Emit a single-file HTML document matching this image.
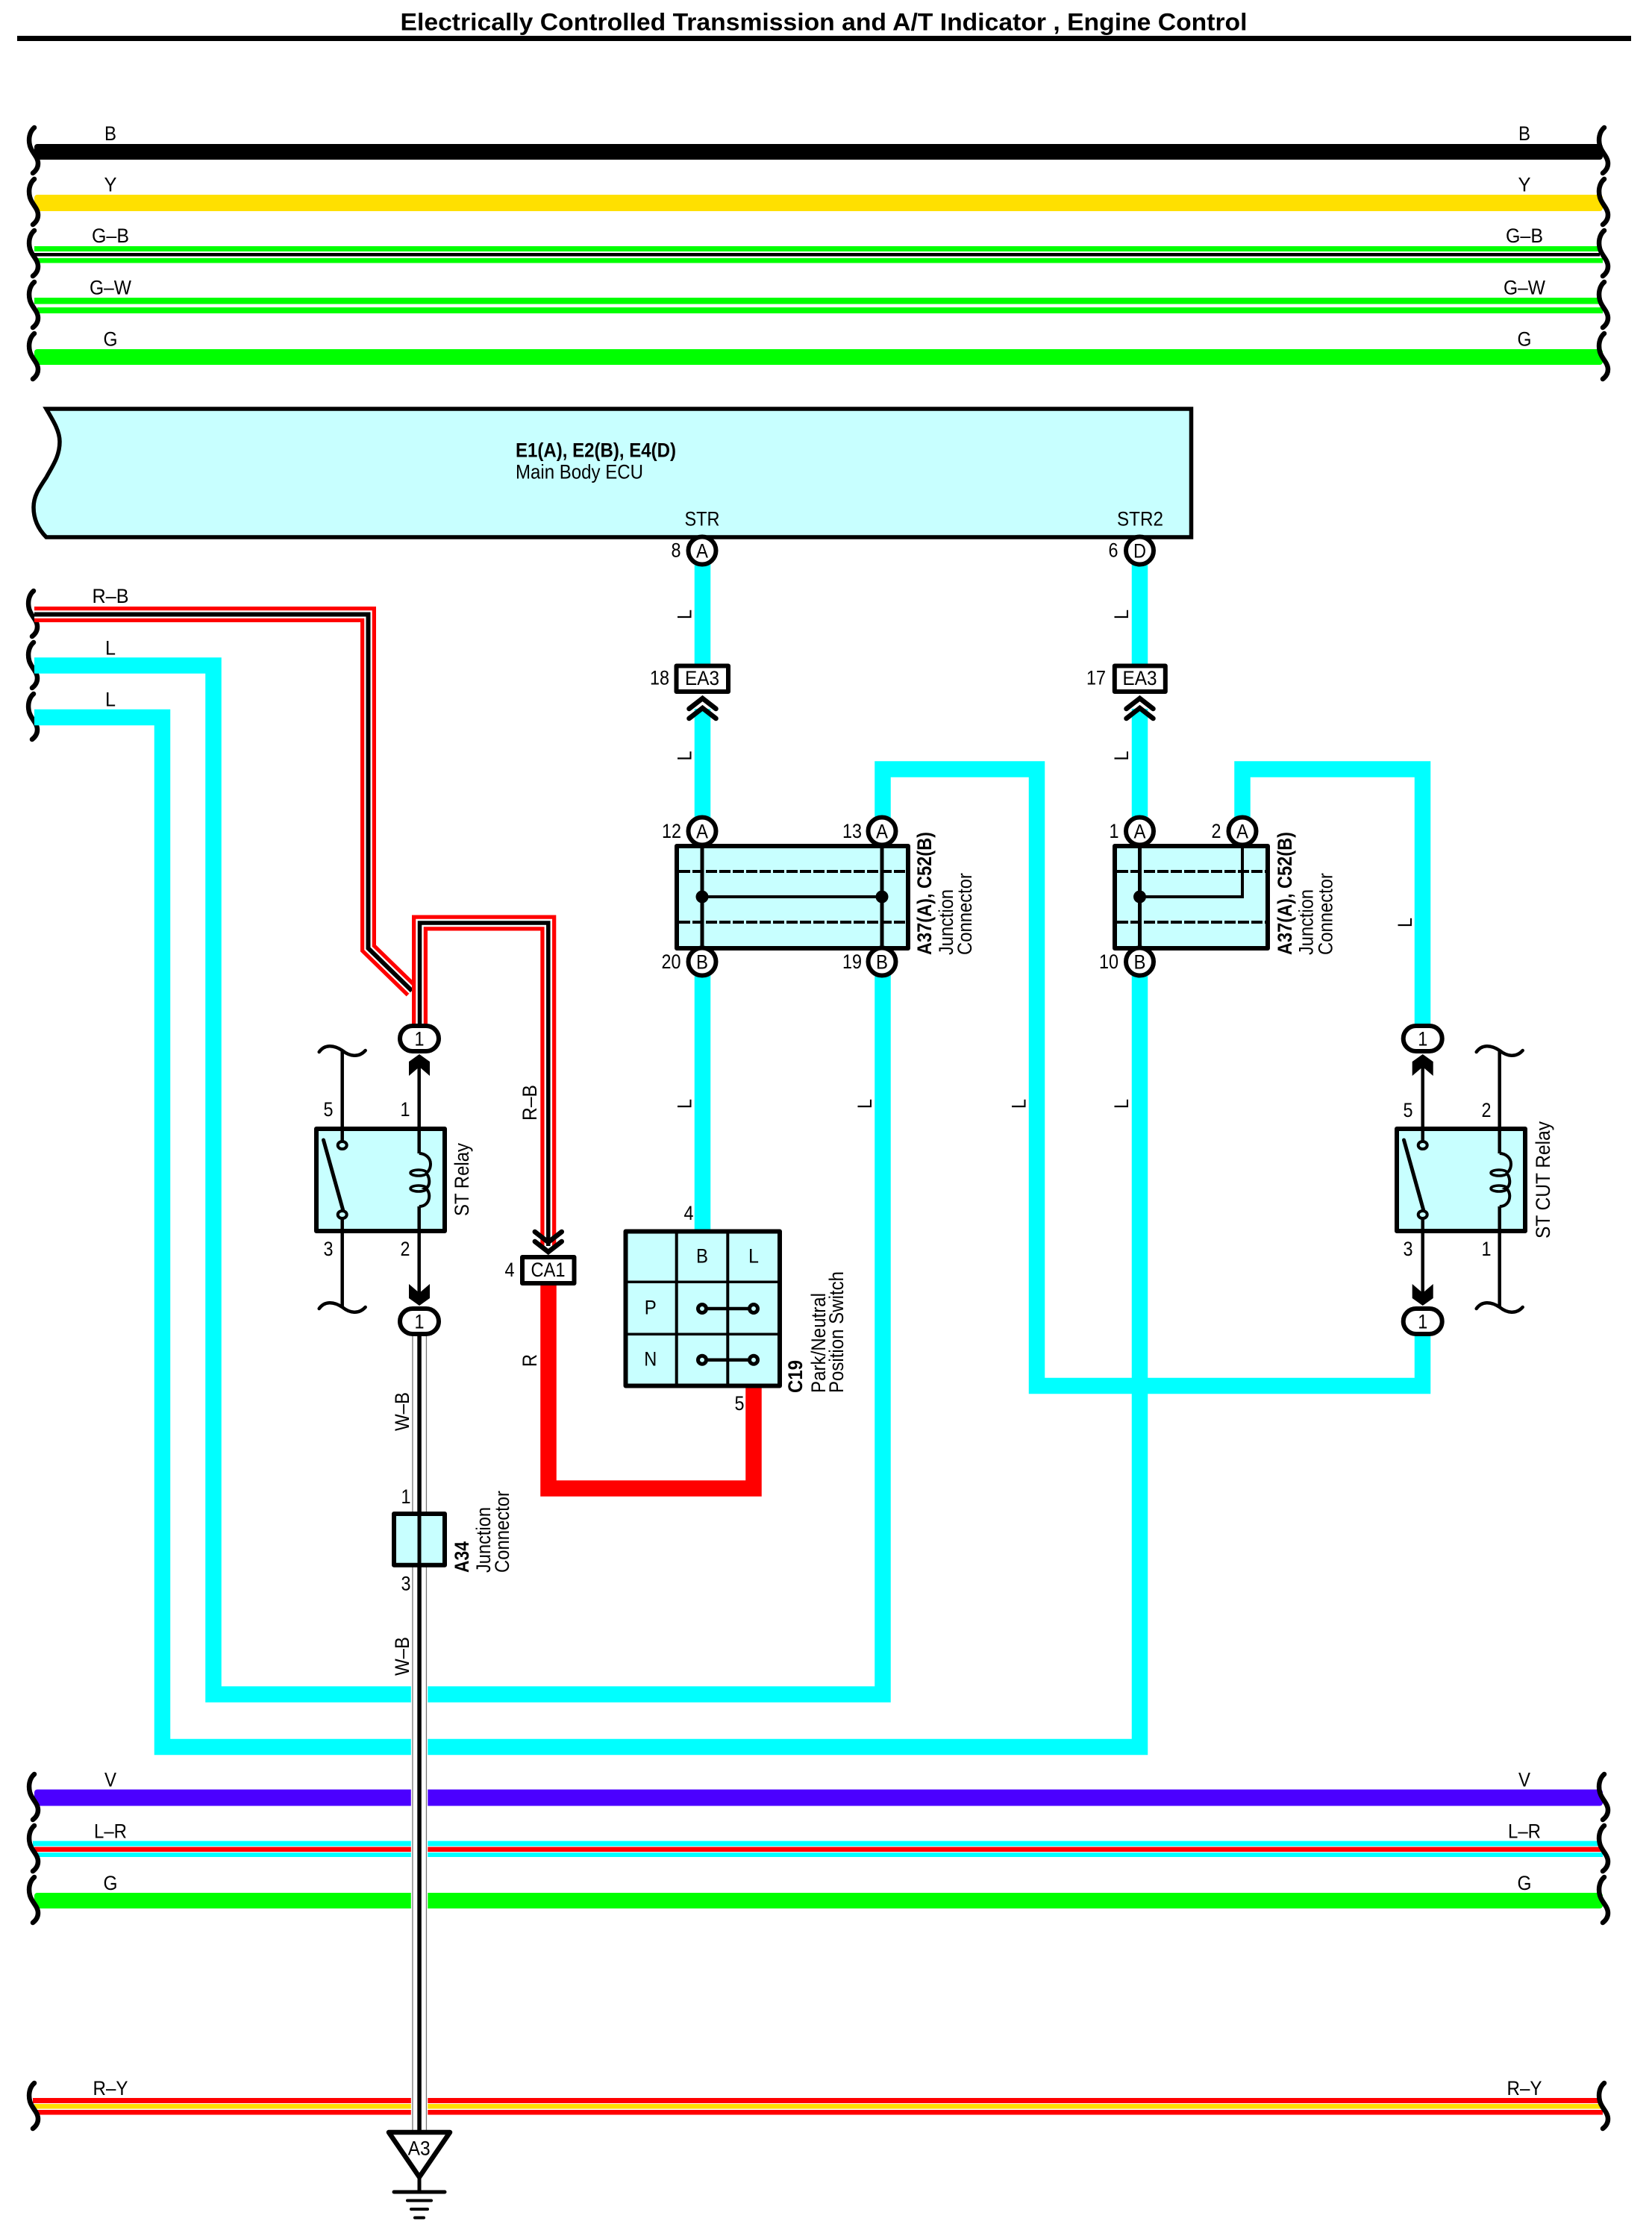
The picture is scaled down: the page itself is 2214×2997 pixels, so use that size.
<!DOCTYPE html>
<html><head><meta charset="utf-8"><title>Electrically Controlled Transmission and A/T Indicator, Engine Control</title>
<style>
html,body{margin:0;padding:0;background:#fff}
svg{display:block}
text{font-family:"Liberation Sans",Arial,sans-serif;font-size:27px;fill:#000}
.b{font-weight:bold}
.m{text-anchor:middle}
.w{fill:none;stroke-linejoin:miter}
</style></head>
<body>
<svg xmlns="http://www.w3.org/2000/svg" width="2214" height="2997" viewBox="0 0 2214 2997">
<defs>
<path id="sq" d="M46,2 C39,8 38,18 40,26 C42,35 51,41 51,50 C51,56 48,60 44,63" fill="none" stroke="#000" stroke-width="6.5" stroke-linecap="round"/>
<path id="wv" d="M-31 1 C-24 -9 -12 -9 0 -1 C10 7 22 9 31 -1" fill="none" stroke="#000" stroke-width="4.5" stroke-linecap="round"/>
<g id="relay">
<rect x="424" y="1513" width="172" height="137" fill="#c8ffff" stroke="#000" stroke-width="6" stroke-linejoin="round"/>
<line x1="458.700" y1="1513" x2="458.700" y2="1530" stroke="#000" stroke-width="4.500"/>
<line x1="458.700" y1="1633" x2="458.700" y2="1650" stroke="#000" stroke-width="4.500"/>
<line x1="561.700" y1="1513" x2="561.700" y2="1546" stroke="#000" stroke-width="4.500"/>
<line x1="561.700" y1="1617" x2="561.700" y2="1650" stroke="#000" stroke-width="4.500"/>
<line x1="433.500" y1="1528" x2="460" y2="1623" stroke="#000" stroke-width="5" stroke-linecap="round"/>
<ellipse cx="458.700" cy="1535" rx="6" ry="5" fill="#c8ffff" stroke="#000" stroke-width="4"/>
<ellipse cx="458.700" cy="1628" rx="6" ry="5" fill="#c8ffff" stroke="#000" stroke-width="4"/>
<g fill="none" stroke="#000">
<path d="M561.700 1546 C570 1546 577 1552 577 1560 C577 1566 574 1572 570 1572 C576 1575 578 1590 570 1593 C578 1596 578 1617 561.700 1617" stroke-width="4"/>
<ellipse cx="561" cy="1572" rx="11" ry="4" stroke-width="3.500"/>
<ellipse cx="561" cy="1593" rx="11" ry="4" stroke-width="3.500"/>
</g>
</g>
<polygon id="au" points="0,0 14,10 14,29 0,17 -14,29 -14,10"/>
<polygon id="ad" points="0,0 14,-10 14,-29 0,-17 -14,-29 -14,-10"/>
<g id="chU" fill="none" stroke="#000" stroke-width="6.500" stroke-linecap="round" stroke-linejoin="miter">
<polyline points="-18,14 0,0 18,14"/>
<polyline points="-18,27 0,13 18,27"/>
</g>
<g id="chD" fill="none" stroke="#000" stroke-width="6.500" stroke-linecap="round" stroke-linejoin="miter">
<polyline points="-18,-14 0,0 18,-14"/>
<polyline points="-18,-27 0,-13 18,-27"/>
</g>
</defs>

<!-- title -->
<text x="536.500" y="40.700" class="b" style="font-size:32px" textLength="1135" lengthAdjust="spacingAndGlyphs">Electrically Controlled Transmission and A/T Indicator , Engine Control</text>
<rect x="23" y="48" width="2163" height="7" fill="#000"/>

<!-- top harness bars -->
<rect x="46" y="193" width="2102" height="21" rx="4" fill="#000"/>
<rect x="46" y="261" width="2102" height="22" rx="4" fill="#ffe000"/>
<rect x="46" y="330" width="2098" height="7" fill="#00ff00"/>
<rect x="46" y="339" width="2098" height="4.500" fill="#000"/>
<rect x="50" y="346" width="2098" height="6.500" fill="#00ff00"/>
<rect x="46" y="399" width="2098" height="8.500" fill="#00ff00"/>
<rect x="50" y="412" width="2098" height="8" fill="#00ff00"/>
<rect x="46" y="468" width="2102" height="21" rx="4" fill="#00ff00"/>

<!-- lower harness bars -->
<rect x="46" y="2398.500" width="2102" height="22" rx="4" fill="#4b00ff"/>
<rect x="44" y="2467.500" width="2100" height="7" fill="#00ffff"/>
<rect x="46" y="2475.500" width="2100" height="6.500" fill="#ff0000"/>
<rect x="50" y="2483" width="2098" height="6" fill="#00ffff"/>
<rect x="46" y="2537" width="2102" height="21" rx="4" fill="#00ff00"/>
<rect x="44" y="2812" width="2100" height="7" fill="#ff0000"/>
<rect x="46" y="2820" width="2100" height="6.500" fill="#ffe000"/>
<rect x="50" y="2828" width="2098" height="6.500" fill="#ff0000"/>

<!-- squiggles left and right -->
<use href="#sq" x="0" y="169"/><use href="#sq" x="0" y="238"/><use href="#sq" x="0" y="307"/><use href="#sq" x="0" y="376"/><use href="#sq" x="0" y="445"/>
<use href="#sq" x="2104" y="169"/><use href="#sq" x="2104" y="238"/><use href="#sq" x="2104" y="307"/><use href="#sq" x="2104" y="376"/><use href="#sq" x="2104" y="445"/>
<use href="#sq" x="0" y="2376"/><use href="#sq" x="0" y="2445"/><use href="#sq" x="0" y="2514"/><use href="#sq" x="0" y="2790"/>
<use href="#sq" x="2104" y="2376"/><use href="#sq" x="2104" y="2445"/><use href="#sq" x="2104" y="2514"/><use href="#sq" x="2104" y="2790"/>
<use href="#sq" x="-1" y="790"/><use href="#sq" x="-1" y="859"/><use href="#sq" x="-1" y="928"/>

<!-- bar labels -->
<g>
<text class="m" x="148" y="188" textLength="16" lengthAdjust="spacingAndGlyphs">B</text>
<text class="m" x="148" y="256.700" textLength="17" lengthAdjust="spacingAndGlyphs">Y</text>
<text class="m" x="148" y="325" textLength="50" lengthAdjust="spacingAndGlyphs">G–B</text>
<text class="m" x="148" y="394.300" textLength="56" lengthAdjust="spacingAndGlyphs">G–W</text>
<text class="m" x="148" y="463.300" textLength="19" lengthAdjust="spacingAndGlyphs">G</text>
<text class="m" x="2043" y="188" textLength="16" lengthAdjust="spacingAndGlyphs">B</text>
<text class="m" x="2043" y="256.700" textLength="17" lengthAdjust="spacingAndGlyphs">Y</text>
<text class="m" x="2043" y="325" textLength="50" lengthAdjust="spacingAndGlyphs">G–B</text>
<text class="m" x="2043" y="394.300" textLength="56" lengthAdjust="spacingAndGlyphs">G–W</text>
<text class="m" x="2043" y="463.300" textLength="19" lengthAdjust="spacingAndGlyphs">G</text>
<text class="m" x="148" y="2394.500" textLength="16" lengthAdjust="spacingAndGlyphs">V</text>
<text class="m" x="148" y="2463.700" textLength="44" lengthAdjust="spacingAndGlyphs">L–R</text>
<text class="m" x="148" y="2532.800" textLength="19" lengthAdjust="spacingAndGlyphs">G</text>
<text class="m" x="148" y="2808" textLength="47" lengthAdjust="spacingAndGlyphs">R–Y</text>
<text class="m" x="2043" y="2394.500" textLength="16" lengthAdjust="spacingAndGlyphs">V</text>
<text class="m" x="2043" y="2463.700" textLength="44" lengthAdjust="spacingAndGlyphs">L–R</text>
<text class="m" x="2043" y="2532.800" textLength="19" lengthAdjust="spacingAndGlyphs">G</text>
<text class="m" x="2043" y="2808" textLength="47" lengthAdjust="spacingAndGlyphs">R–Y</text>
<text class="m" x="148" y="808" textLength="49" lengthAdjust="spacingAndGlyphs">R–B</text>
<text class="m" x="148" y="877.300" textLength="14" lengthAdjust="spacingAndGlyphs">L</text>
<text class="m" x="148" y="946.700" textLength="14" lengthAdjust="spacingAndGlyphs">L</text>
</g>

<!-- ECU -->
<path d="M62,548 C72,565 80,578 80,592 C80,612 70,625 62,640 C52,655 45,665 45,680 C45,697 52,710 62,720 L1596.500,720 L1596.500,548 Z" fill="#c8ffff" stroke="#000" stroke-width="5.500" stroke-linejoin="miter"/>
<text x="691" y="612.700" class="b" textLength="215" lengthAdjust="spacingAndGlyphs">E1(A), E2(B), E4(D)</text>
<text x="691" y="641.700" textLength="171" lengthAdjust="spacingAndGlyphs">Main Body ECU</text>
<text class="m" x="941" y="704.500" textLength="47" lengthAdjust="spacingAndGlyphs">STR</text>
<text class="m" x="1528" y="704.500" textLength="62" lengthAdjust="spacingAndGlyphs">STR2</text>

<!-- cyan wires -->
<g class="w" stroke="#00ffff" stroke-width="21.500">
<polyline points="46,892 286,892 286,2271 1183,2271 1183,1300"/>
<polyline points="46,961.500 217.500,961.500 217.500,2341.500 1527.500,2341.500 1527.500,1300"/>
<line x1="941.500" y1="750" x2="941.500" y2="895"/>
<line x1="941.500" y1="950" x2="941.500" y2="1100"/>
<line x1="941.500" y1="1300" x2="941.500" y2="1650"/>
<line x1="1527.500" y1="750" x2="1527.500" y2="895"/>
<line x1="1527.500" y1="950" x2="1527.500" y2="1100"/>
<polyline points="1183,1100 1183,1031 1389.500,1031 1389.500,1857.500 1906.500,1857.500 1906.500,1785"/>
<polyline points="1665,1100 1665,1031 1906.500,1031 1906.500,1380"/>
</g>

<!-- red R wire -->
<polyline class="w" points="735,1715 735,1995 1010,1995 1010,1855" stroke="#ff0000" stroke-width="21.500"/>

<!-- R-B wires -->
<g class="w">
<polyline points="46,823.500 493.500,823.500 493.500,1271 552,1328" stroke="#ff0000" stroke-width="21"/>
<polyline points="46,823.500 493.500,823.500 493.500,1271 552,1328" stroke="#fff" stroke-width="10.500"/>
<polyline points="46,823.500 493.500,823.500 493.500,1271 552,1328" stroke="#000" stroke-width="6"/>
<polyline points="562.500,1380 562.500,1237 734.800,1237 734.800,1670" stroke="#ff0000" stroke-width="21"/>
<polyline points="562.500,1380 562.500,1237 734.800,1237 734.800,1670" stroke="#fff" stroke-width="10.500"/>
<polyline points="562.500,1380 562.500,1237 734.800,1237 734.800,1670" stroke="#000" stroke-width="5.500"/>
</g>

<!-- W-B wire -->
<rect x="550.800" y="1790" width="22.500" height="1066" fill="#fff"/>
<rect x="552.300" y="1790" width="1.300" height="1066" fill="#777"/>
<rect x="570.800" y="1790" width="1.300" height="1066" fill="#777"/>
<rect x="559.300" y="1790" width="5.500" height="1066" fill="#000"/>

<!-- EA3 connectors -->
<g>
<rect x="906.500" y="892.500" width="69.500" height="34.500" fill="#fff" stroke="#000" stroke-width="6" stroke-linejoin="round"/>
<text class="m" x="941" y="918" textLength="46" lengthAdjust="spacingAndGlyphs">EA3</text>
<use href="#chU" x="941.500" y="936"/>
<text class="m" x="884" y="917.500" textLength="26" lengthAdjust="spacingAndGlyphs">18</text>
<rect x="1493.800" y="892.500" width="68" height="34.500" fill="#fff" stroke="#000" stroke-width="6" stroke-linejoin="round"/>
<text class="m" x="1527.500" y="918" textLength="46" lengthAdjust="spacingAndGlyphs">EA3</text>
<use href="#chU" x="1527.500" y="936"/>
<text class="m" x="1469" y="917.500" textLength="26" lengthAdjust="spacingAndGlyphs">17</text>
</g>

<!-- L labels -->
<g>
<text transform="translate(926.500 830) rotate(-90)" textLength="13" lengthAdjust="spacingAndGlyphs">L</text>
<text transform="translate(926.500 1019.500) rotate(-90)" textLength="13" lengthAdjust="spacingAndGlyphs">L</text>
<text transform="translate(1512 830) rotate(-90)" textLength="13" lengthAdjust="spacingAndGlyphs">L</text>
<text transform="translate(1512 1019.500) rotate(-90)" textLength="13" lengthAdjust="spacingAndGlyphs">L</text>
<text transform="translate(926.500 1486) rotate(-90)" textLength="13" lengthAdjust="spacingAndGlyphs">L</text>
<text transform="translate(1168 1486) rotate(-90)" textLength="13" lengthAdjust="spacingAndGlyphs">L</text>
<text transform="translate(1374.500 1486) rotate(-90)" textLength="13" lengthAdjust="spacingAndGlyphs">L</text>
<text transform="translate(1512 1486) rotate(-90)" textLength="13" lengthAdjust="spacingAndGlyphs">L</text>
<text transform="translate(1892 1243) rotate(-90)" textLength="13" lengthAdjust="spacingAndGlyphs">L</text>
</g>

<!-- Junction A37 1 -->
<rect x="907" y="1134" width="310" height="137" fill="#c8ffff" stroke="#000" stroke-width="6" stroke-linejoin="round"/>
<g stroke="#000" fill="none">
<line x1="910" y1="1168" x2="1214" y2="1168" stroke-width="4" stroke-dasharray="15 3"/>
<line x1="910" y1="1236" x2="1214" y2="1236" stroke-width="4" stroke-dasharray="15 3"/>
<line x1="941" y1="1134" x2="941" y2="1271" stroke-width="5"/>
<line x1="1182" y1="1134" x2="1182" y2="1271" stroke-width="5"/>
<line x1="941" y1="1202" x2="1182" y2="1202" stroke-width="4"/>
</g>
<circle cx="941" cy="1202" r="8.500" fill="#000"/><circle cx="1182" cy="1202" r="8.500" fill="#000"/>

<!-- Junction A37 2 -->
<rect x="1494" y="1134" width="205" height="137" fill="#c8ffff" stroke="#000" stroke-width="6" stroke-linejoin="round"/>
<g stroke="#000" fill="none">
<line x1="1497" y1="1168" x2="1696" y2="1168" stroke-width="4" stroke-dasharray="15 3"/>
<line x1="1497" y1="1236" x2="1696" y2="1236" stroke-width="4" stroke-dasharray="15 3"/>
<line x1="1527.500" y1="1134" x2="1527.500" y2="1271" stroke-width="5"/>
<polyline points="1665,1134 1665,1202 1527.500,1202" stroke-width="4"/>
</g>
<circle cx="1527.500" cy="1202" r="8.500" fill="#000"/>

<!-- pin circles -->
<g fill="#fff" stroke="#000" stroke-width="6">
<circle cx="941" cy="738" r="18.500"/><circle cx="1527.500" cy="738" r="18.500"/>
<circle cx="941" cy="1114" r="18.500"/><circle cx="1182" cy="1114" r="18.500"/>
<circle cx="941" cy="1289" r="18.500"/><circle cx="1182" cy="1289" r="18.500"/>
<circle cx="1527.500" cy="1114" r="18.500"/><circle cx="1665" cy="1114" r="18.500"/>
<circle cx="1527.500" cy="1289" r="18.500"/>
</g>
<g>
<text class="m" x="941" y="747.500" textLength="16" lengthAdjust="spacingAndGlyphs">A</text>
<text class="m" x="1527.500" y="747.500" textLength="17" lengthAdjust="spacingAndGlyphs">D</text>
<text class="m" x="941" y="1123.500" textLength="16" lengthAdjust="spacingAndGlyphs">A</text>
<text class="m" x="1182" y="1123.500" textLength="16" lengthAdjust="spacingAndGlyphs">A</text>
<text class="m" x="941" y="1298.500" textLength="16" lengthAdjust="spacingAndGlyphs">B</text>
<text class="m" x="1182" y="1298.500" textLength="16" lengthAdjust="spacingAndGlyphs">B</text>
<text class="m" x="1527.500" y="1123.500" textLength="16" lengthAdjust="spacingAndGlyphs">A</text>
<text class="m" x="1665" y="1123.500" textLength="16" lengthAdjust="spacingAndGlyphs">A</text>
<text class="m" x="1527.500" y="1298.500" textLength="16" lengthAdjust="spacingAndGlyphs">B</text>
<text class="m" x="906" y="746.500" textLength="13" lengthAdjust="spacingAndGlyphs">8</text>
<text class="m" x="1492" y="746.500" textLength="13" lengthAdjust="spacingAndGlyphs">6</text>
<text class="m" x="900" y="1123" textLength="26" lengthAdjust="spacingAndGlyphs">12</text>
<text class="m" x="1142" y="1123" textLength="26" lengthAdjust="spacingAndGlyphs">13</text>
<text class="m" x="899.500" y="1298" textLength="26" lengthAdjust="spacingAndGlyphs">20</text>
<text class="m" x="1142" y="1298" textLength="26" lengthAdjust="spacingAndGlyphs">19</text>
<text class="m" x="1493" y="1123" textLength="13" lengthAdjust="spacingAndGlyphs">1</text>
<text class="m" x="1630" y="1123" textLength="13" lengthAdjust="spacingAndGlyphs">2</text>
<text class="m" x="1486" y="1298" textLength="26" lengthAdjust="spacingAndGlyphs">10</text>
</g>

<!-- Junction labels -->
<g>
<text class="b" transform="translate(1248 1280) rotate(-90)" textLength="165" lengthAdjust="spacingAndGlyphs">A37(A),  C52(B)</text>
<text transform="translate(1277 1280) rotate(-90)" textLength="88" lengthAdjust="spacingAndGlyphs">Junction</text>
<text transform="translate(1302 1280) rotate(-90)" textLength="110" lengthAdjust="spacingAndGlyphs">Connector</text>
<text class="b" transform="translate(1731 1280) rotate(-90)" textLength="165" lengthAdjust="spacingAndGlyphs">A37(A),  C52(B)</text>
<text transform="translate(1759.500 1280) rotate(-90)" textLength="88" lengthAdjust="spacingAndGlyphs">Junction</text>
<text transform="translate(1785.500 1280) rotate(-90)" textLength="110" lengthAdjust="spacingAndGlyphs">Connector</text>
</g>

<!-- ST Relay -->
<g stroke="#000" fill="none" stroke-width="4.500">
<line x1="458.700" y1="1409" x2="458.700" y2="1513"/>
<line x1="458.700" y1="1650" x2="458.700" y2="1753"/>
<line x1="561.700" y1="1425" x2="561.700" y2="1513"/>
<line x1="561.700" y1="1650" x2="561.700" y2="1740"/>
</g>
<use href="#relay"/>
<use href="#wv" x="458.700" y="1409"/><use href="#wv" x="458.700" y="1753"/>
<use href="#au" x="562" y="1413"/><use href="#ad" x="562" y="1750"/>
<g fill="#fff" stroke="#000" stroke-width="6">
<rect x="536" y="1375" width="52" height="34" rx="17"/>
<rect x="536" y="1754" width="52" height="34" rx="17"/>
</g>
<text class="m" x="562" y="1401.500" textLength="13" lengthAdjust="spacingAndGlyphs">1</text>
<text class="m" x="562" y="1780.500" textLength="13" lengthAdjust="spacingAndGlyphs">1</text>
<text class="m" x="440" y="1496" textLength="13" lengthAdjust="spacingAndGlyphs">5</text>
<text class="m" x="543" y="1496" textLength="13" lengthAdjust="spacingAndGlyphs">1</text>
<text class="m" x="440" y="1683" textLength="13" lengthAdjust="spacingAndGlyphs">3</text>
<text class="m" x="543" y="1683" textLength="13" lengthAdjust="spacingAndGlyphs">2</text>
<text transform="translate(628 1630) rotate(-90)" textLength="98" lengthAdjust="spacingAndGlyphs">ST Relay</text>

<!-- ST CUT Relay -->
<g stroke="#000" fill="none" stroke-width="4.500">
<line x1="1906.700" y1="1425" x2="1906.700" y2="1513"/>
<line x1="1906.700" y1="1650" x2="1906.700" y2="1740"/>
<line x1="2009.700" y1="1409" x2="2009.700" y2="1513"/>
<line x1="2009.700" y1="1650" x2="2009.700" y2="1753"/>
</g>
<use href="#relay" x="1448"/>
<use href="#wv" x="2009.700" y="1409"/><use href="#wv" x="2009.700" y="1753"/>
<use href="#au" x="1906.700" y="1413"/><use href="#ad" x="1906.700" y="1750"/>
<g fill="#fff" stroke="#000" stroke-width="6">
<rect x="1880.700" y="1375" width="52" height="34" rx="17"/>
<rect x="1880.700" y="1754" width="52" height="34" rx="17"/>
</g>
<text class="m" x="1906.700" y="1401.500" textLength="13" lengthAdjust="spacingAndGlyphs">1</text>
<text class="m" x="1906.700" y="1780.500" textLength="13" lengthAdjust="spacingAndGlyphs">1</text>
<text class="m" x="1887" y="1497" textLength="13" lengthAdjust="spacingAndGlyphs">5</text>
<text class="m" x="1992" y="1497" textLength="13" lengthAdjust="spacingAndGlyphs">2</text>
<text class="m" x="1887" y="1683" textLength="13" lengthAdjust="spacingAndGlyphs">3</text>
<text class="m" x="1992" y="1683" textLength="13" lengthAdjust="spacingAndGlyphs">1</text>
<text transform="translate(2077 1660) rotate(-90)" textLength="157" lengthAdjust="spacingAndGlyphs">ST CUT Relay</text>

<!-- CA1 -->
<use href="#chD" x="734.800" y="1678"/>
<rect x="700" y="1685" width="69.500" height="35" fill="#fff" stroke="#000" stroke-width="6" stroke-linejoin="round"/>
<text class="m" x="734.500" y="1711" textLength="46" lengthAdjust="spacingAndGlyphs">CA1</text>
<text class="m" x="683" y="1711" textLength="13" lengthAdjust="spacingAndGlyphs">4</text>
<text transform="translate(719 1502) rotate(-90)" textLength="48" lengthAdjust="spacingAndGlyphs">R–B</text>
<text transform="translate(719 1832) rotate(-90)" textLength="17" lengthAdjust="spacingAndGlyphs">R</text>

<!-- Park/Neutral switch -->
<rect x="838.500" y="1650.500" width="206.500" height="207" fill="#c8ffff" stroke="#000" stroke-width="6" stroke-linejoin="round"/>
<g stroke="#000" fill="none">
<line x1="906.700" y1="1650" x2="906.700" y2="1857" stroke-width="4"/>
<line x1="975.300" y1="1650" x2="975.300" y2="1857" stroke-width="4"/>
<line x1="838" y1="1718.300" x2="1045" y2="1718.300" stroke-width="3.500"/>
<line x1="838" y1="1788.300" x2="1045" y2="1788.300" stroke-width="3.500"/>
<line x1="941" y1="1754" x2="1010" y2="1754" stroke-width="4.500"/>
<line x1="941" y1="1822.700" x2="1010" y2="1822.700" stroke-width="4.500"/>
</g>
<g fill="#c8ffff" stroke="#000" stroke-width="5">
<circle cx="941" cy="1754" r="5.500"/><circle cx="1010" cy="1754" r="5.500"/>
<circle cx="941" cy="1822.700" r="5.500"/><circle cx="1010" cy="1822.700" r="5.500"/>
</g>
<text class="m" x="941" y="1692.700" textLength="16" lengthAdjust="spacingAndGlyphs">B</text>
<text class="m" x="1010" y="1692.700" textLength="14" lengthAdjust="spacingAndGlyphs">L</text>
<text class="m" x="871.700" y="1761.700" textLength="16" lengthAdjust="spacingAndGlyphs">P</text>
<text class="m" x="871.700" y="1830.700" textLength="17" lengthAdjust="spacingAndGlyphs">N</text>
<text class="m" x="923" y="1635" textLength="13" lengthAdjust="spacingAndGlyphs">4</text>
<text class="m" x="991" y="1890" textLength="13" lengthAdjust="spacingAndGlyphs">5</text>
<text class="b" transform="translate(1075 1867) rotate(-90)" textLength="44" lengthAdjust="spacingAndGlyphs">C19</text>
<text transform="translate(1106 1867) rotate(-90)" textLength="134" lengthAdjust="spacingAndGlyphs">Park/Neutral</text>
<text transform="translate(1130 1867) rotate(-90)" textLength="163" lengthAdjust="spacingAndGlyphs">Position Switch</text>

<!-- A34 -->
<rect x="528" y="2029" width="68" height="68.700" fill="#c8ffff" stroke="#000" stroke-width="6" stroke-linejoin="round"/>
<rect x="559.500" y="2029" width="5" height="69" fill="#000"/>
<text class="m" x="544" y="2015" textLength="13" lengthAdjust="spacingAndGlyphs">1</text>
<text class="m" x="544" y="2131.700" textLength="13" lengthAdjust="spacingAndGlyphs">3</text>
<text class="b" transform="translate(628 2108) rotate(-90)" textLength="42" lengthAdjust="spacingAndGlyphs">A34</text>
<text transform="translate(657 2108) rotate(-90)" textLength="88" lengthAdjust="spacingAndGlyphs">Junction</text>
<text transform="translate(682 2108) rotate(-90)" textLength="110" lengthAdjust="spacingAndGlyphs">Connector</text>
<text transform="translate(548 1918) rotate(-90)" textLength="52" lengthAdjust="spacingAndGlyphs">W–B</text>
<text transform="translate(548 2246) rotate(-90)" textLength="52" lengthAdjust="spacingAndGlyphs">W–B</text>

<!-- ground -->
<polygon points="521,2858 603,2858 562,2918" fill="#fff" stroke="#000" stroke-width="6.500" stroke-linejoin="round"/>
<text class="m" x="561.600" y="2888.500" textLength="30" lengthAdjust="spacingAndGlyphs">A3</text>
<g stroke="#000" stroke-linecap="round">
<line x1="562" y1="2918" x2="562" y2="2938" stroke-width="5"/>
<line x1="528" y1="2938" x2="596" y2="2938" stroke-width="5"/>
<line x1="546" y1="2949.500" x2="578" y2="2949.500" stroke-width="4"/>
<line x1="551" y1="2961" x2="573" y2="2961" stroke-width="4"/>
<line x1="556" y1="2972.500" x2="568" y2="2972.500" stroke-width="4"/>
</g>
</svg>
</body></html>
